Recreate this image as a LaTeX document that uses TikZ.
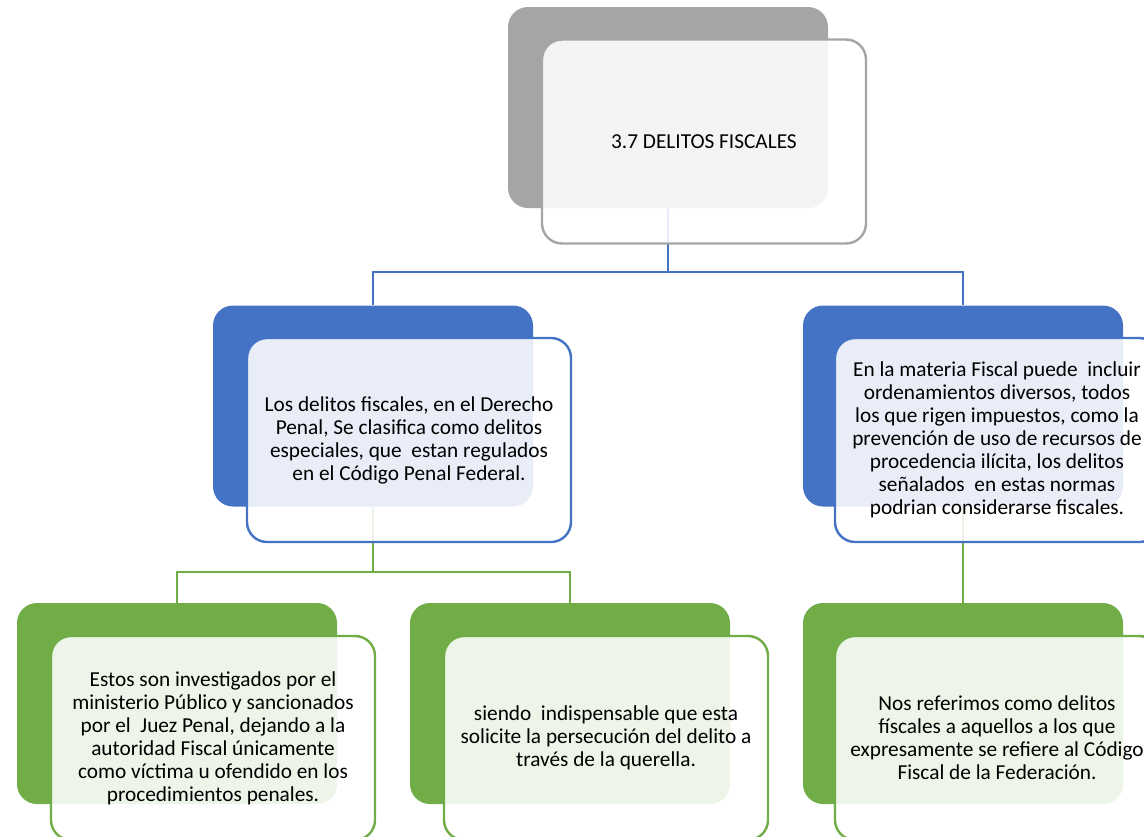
\documentclass[tikz,border=0pt]{standalone}
\usepackage{fontspec}
\setmainfont{Carlito}
\definecolor{cgray}{HTML}{A5A5A5}
\definecolor{cblue}{HTML}{4472C4}
\definecolor{cgreen}{HTML}{70AD47}
\begin{document}
\begin{tikzpicture}[x=1pt,y=-1pt,
  backbox/.style={rounded corners=20pt, minimum width=320pt, minimum height=201pt, inner sep=0pt, draw=none},
  frontbox/.style={rounded corners=20pt, minimum width=324pt, minimum height=204pt, inner sep=0pt,
     line width=2.4pt, fill=white, fill opacity=0.88, text opacity=1, align=center,
     font=\fontsize{21.3}{23}\selectfont},
  conn/.style={line width=2pt}]
\useasboundingbox (0,0) rectangle (1144,836);
% back boxes
\node[backbox, fill=cgray] (b0) at (668,107.5) {};
\node[backbox, fill=cblue] (b1) at (373,406) {};
\node[backbox, fill=cblue] (b2) at (963,406) {};
\node[backbox, fill=cgreen] (b3) at (177,703.5) {};
\node[backbox, fill=cgreen] (b4) at (570,703.5) {};
\node[backbox, fill=cgreen] (b5) at (963,703.5) {};
% connectors
\coordinate (j0) at (668,272);
\coordinate (j1) at (373,572);
\draw[conn, cblue] (b0.south) -- (j0) -| (b1.north);
\draw[conn, cblue] (j0) -| (b2.north);
\draw[conn, cgreen] (b1.south) -- (j1) -| (b3.north);
\draw[conn, cgreen] (j1) -| (b4.north);
\draw[conn, cgreen] (b2.south) -- (b5.north);
% front boxes
\node[frontbox, draw=cgray] (f0) at (704,141.5) {3.7 DELITOS FISCALES};
\node[frontbox, draw=cblue] (f1) at (409,440) {Los delitos fiscales, en el Derecho\\Penal, Se clasifica como delitos\\especiales, que~ estan regulados\\en el Código Penal Federal.};
\node[frontbox, draw=cblue] (f2) at (997,440) {En la materia Fiscal puede~ incluir\\ordenamientos diversos, todos\\los que rigen impuestos, como la\\prevención de uso de recursos de\\procedencia ilícita, los delitos\\señalados~ en estas normas\\podrian considerarse fiscales.};
\node[frontbox, draw=cgreen] (f3) at (213,738) {Estos son investigados por el\\ministerio Público y sancionados\\por el~ Juez Penal, dejando a la\\autoridad Fiscal únicamente\\como víctima u ofendido en los\\procedimientos penales.};
\node[frontbox, draw=cgreen] (f4) at (606,738) {siendo~ indispensable que esta\\solicite la persecución del delito a\\través de la querella.};
\node[frontbox, draw=cgreen] (f5) at (997,738) {Nos referimos como delitos\\físcales a aquellos a los que\\expresamente se refiere al Código\\Fiscal de la Federación.};
\end{tikzpicture}
\end{document}
